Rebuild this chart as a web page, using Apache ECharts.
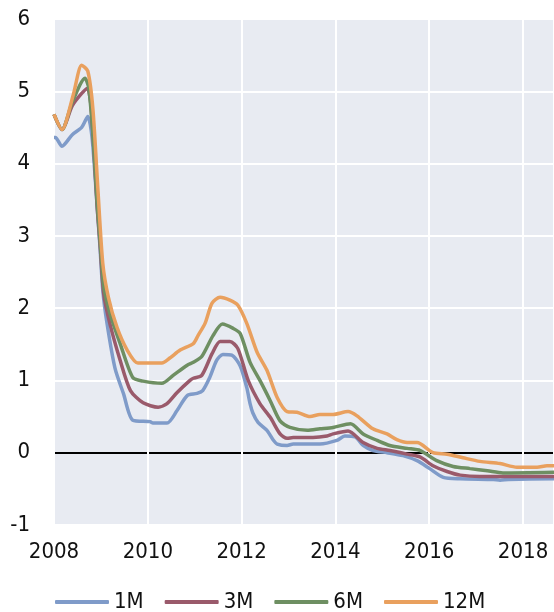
<!DOCTYPE html>
<html>
<head>
<meta charset="utf-8">
<script src="https://cdn.jsdelivr.net/npm/echarts@6/dist/echarts.min.js"></script>
<style>
  html, body { margin: 0; padding: 0; background: #fff; }
  #chart { width: 554px; height: 612px; }
</style>
</head>
<body>
<div id="chart"></div>
<script>
// [year, rate %]
const m1 = [
  [2008.00, 4.36], [2008.03, 4.36], [2008.17, 4.24], [2008.39, 4.40], [2008.59, 4.50],
  [2008.72, 4.65], [2008.81, 4.37], [2008.91, 3.50], [2008.98, 2.85], [2009.04, 2.25],
  [2009.13, 1.79], [2009.30, 1.17], [2009.48, 0.82], [2009.68, 0.45], [2010.05, 0.43],
  [2010.11, 0.41], [2010.41, 0.41], [2010.62, 0.58], [2010.84, 0.79], [2011.05, 0.82],
  [2011.17, 0.86], [2011.32, 1.04], [2011.47, 1.28], [2011.60, 1.36], [2011.79, 1.35],
  [2011.97, 1.20], [2012.11, 0.90], [2012.18, 0.68], [2012.24, 0.55], [2012.35, 0.42],
  [2012.54, 0.31], [2012.67, 0.18], [2012.76, 0.12], [2012.97, 0.10], [2013.10, 0.12],
  [2013.67, 0.12], [2014.03, 0.17], [2014.20, 0.23], [2014.42, 0.22], [2014.59, 0.10],
  [2014.80, 0.03], [2015.10, 0.00], [2015.44, -0.04], [2015.74, -0.11], [2016.01, -0.22],
  [2016.30, -0.34], [2016.66, -0.36], [2017.37, -0.37], [2017.51, -0.38], [2017.69, -0.37],
  [2018.66, -0.36]
];
const m3 = [
  [2008.00, 4.68], [2008.17, 4.47], [2008.39, 4.80], [2008.59, 4.97], [2008.71, 5.04],
  [2008.78, 4.85], [2008.85, 4.20], [2008.92, 3.40], [2008.98, 2.90], [2009.06, 2.20],
  [2009.19, 1.79], [2009.41, 1.28], [2009.63, 0.86], [2009.90, 0.69], [2010.22, 0.63],
  [2010.41, 0.68], [2010.62, 0.83], [2010.90, 1.00], [2010.97, 1.03], [2011.15, 1.07],
  [2011.37, 1.37], [2011.54, 1.54], [2011.75, 1.54], [2011.92, 1.44], [2012.14, 1.00],
  [2012.39, 0.68], [2012.61, 0.49], [2012.82, 0.26], [2012.97, 0.20], [2013.10, 0.21],
  [2013.52, 0.21], [2013.82, 0.23], [2013.95, 0.26], [2014.27, 0.30], [2014.59, 0.14],
  [2014.89, 0.06], [2015.16, 0.03], [2015.53, -0.02], [2015.81, -0.06], [2016.08, -0.18],
  [2016.38, -0.26], [2016.66, -0.31], [2017.08, -0.33], [2018.66, -0.33]
];
const m6 = [
  [2008.00, 4.68], [2008.17, 4.47], [2008.39, 4.85], [2008.66, 5.18], [2008.74, 5.05],
  [2008.83, 4.40], [2008.92, 3.45], [2008.98, 2.95], [2009.06, 2.30], [2009.19, 1.93],
  [2009.41, 1.51], [2009.68, 1.04], [2009.90, 0.99], [2010.30, 0.96], [2010.54, 1.07],
  [2010.84, 1.21], [2010.97, 1.25], [2011.15, 1.33], [2011.39, 1.62], [2011.59, 1.78],
  [2011.82, 1.72], [2011.97, 1.65], [2012.18, 1.25], [2012.39, 1.00], [2012.61, 0.72],
  [2012.82, 0.44], [2013.03, 0.35], [2013.40, 0.31], [2013.67, 0.33], [2013.95, 0.35],
  [2014.32, 0.40], [2014.59, 0.26], [2014.89, 0.17], [2015.16, 0.10], [2015.53, 0.06],
  [2015.81, 0.03], [2016.16, -0.11], [2016.51, -0.19], [2016.87, -0.22], [2017.24, -0.25],
  [2017.57, -0.28], [2018.66, -0.27]
];
const m12 = [
  [2008.00, 4.68], [2008.17, 4.47], [2008.41, 4.95], [2008.59, 5.36], [2008.72, 5.28],
  [2008.83, 4.75], [2008.94, 3.60], [2009.04, 2.62], [2009.16, 2.15], [2009.34, 1.74],
  [2009.56, 1.42], [2009.79, 1.24], [2010.30, 1.24], [2010.47, 1.31], [2010.69, 1.42],
  [2010.97, 1.51], [2011.07, 1.62], [2011.22, 1.79], [2011.37, 2.07], [2011.54, 2.15],
  [2011.75, 2.11], [2011.92, 2.04], [2012.11, 1.79], [2012.33, 1.39], [2012.54, 1.14],
  [2012.76, 0.76], [2012.97, 0.57], [2013.18, 0.56], [2013.46, 0.50], [2013.67, 0.53],
  [2013.95, 0.53], [2014.27, 0.57], [2014.46, 0.51], [2014.80, 0.33], [2015.10, 0.26],
  [2015.31, 0.18], [2015.53, 0.14], [2015.74, 0.14], [2016.08, 0.00], [2016.38, -0.02],
  [2016.72, -0.07], [2017.08, -0.12], [2017.51, -0.15], [2017.87, -0.20], [2018.30, -0.20],
  [2018.51, -0.18], [2018.66, -0.18]
];
const seriesNames = ['1M', '3M', '6M', '12M'];
const seriesColors = ['#7f9bc9', '#9a5a6b', '#6e8f62', '#e9a05e'];

const chart = echarts.init(document.getElementById('chart'));
const font = "'DejaVu Sans Condensed', 'Liberation Sans', sans-serif";

const option = {
  animation: false,
  textStyle: { fontFamily: font },
  grid: {
    left: 54, right: 0, top: 19, bottom: 87,
    show: true, backgroundColor: '#e8ebf2', borderWidth: 0
  },
  legend: {
    data: seriesNames,
    left: 50, top: 586,
    icon: 'roundRect', itemWidth: 54, itemHeight: 4, itemGap: 21,
    textStyle: { fontSize: 22, color: '#111', fontFamily: font }
  },
  xAxis: {
    type: 'value', min: 2008, max: 2018.66, interval: 2,
    axisLine: { show: false }, axisTick: { show: false },
    axisLabel: {
      fontSize: 22, color: '#111', margin: 16, showMaxLabel: false, fontFamily: font,
      formatter: v => String(Math.round(v))
    },
    splitLine: { show: true, lineStyle: { color: '#fff', width: 2 } }
  },
  yAxis: {
    type: 'value', min: -1, max: 6, interval: 1,
    axisLine: { show: false }, axisTick: { show: false },
    axisLabel: { fontSize: 22, color: '#111', margin: 24, fontFamily: font },
    splitLine: {
      show: true,
      lineStyle: { color: ['#fff', '#000', '#fff', '#fff', '#fff', '#fff', '#fff', '#fff'], width: 2 }
    }
  },
  series: [m1, m3, m6, m12].map((d, i) => ({
    name: seriesNames[i],
    type: 'line',
    data: d,
    showSymbol: false,
    smooth: 0.25,
    color: seriesColors[i],
    lineStyle: { width: 3.5, color: seriesColors[i] }
  }))
};

chart.setOption(option);
</script>
</body>
</html>
